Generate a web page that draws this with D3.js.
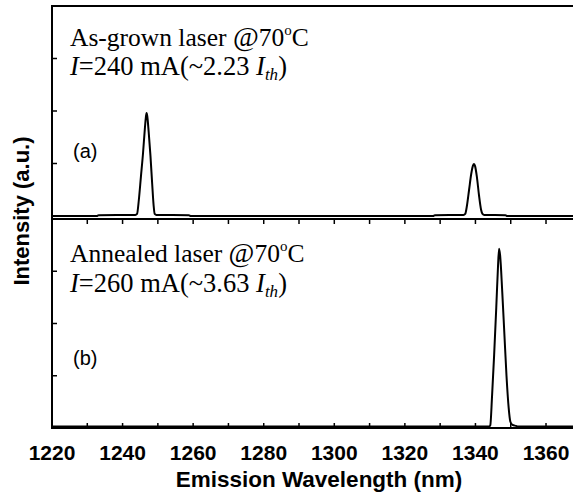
<!DOCTYPE html>
<html>
<head>
<meta charset="utf-8">
<script src="https://cdn.jsdelivr.net/npm/d3@7/dist/d3.min.js"></script>
<style>
  html, body { margin: 0; padding: 0; background: #fff; }
  svg { display: block; }
  .serif { font-family: "Liberation Serif", "Times New Roman", serif; }
  .sans { font-family: "Liberation Sans", Arial, sans-serif; }
</style>
</head>
<body>
<svg id="chart" width="573" height="494"></svg>
<script>
// Emission spectra (nm, arbitrary units)
const wavelengthA = [1220, 1232.7, 1233.2, 1243.6, 1244.1, 1244.6, 1245.2, 1245.8, 1246.3, 1246.6, 1246.8, 1247.0, 1247.4, 1247.9, 1248.4, 1248.8, 1249.1, 1249.6, 1258.8, 1259.3, 1328.0, 1328.5, 1336.6, 1337.1, 1337.6, 1338.2, 1338.8, 1339.3, 1339.6, 1339.9, 1340.4, 1341.0, 1341.6, 1342.0, 1342.5, 1348.5, 1349.0, 1370];
const intensityA  = [0, 0, 0.015, 0.02, 0.04, 0.3, 0.75, 1.2, 1.65, 1.88, 1.96, 1.9, 1.6, 1.15, 0.6, 0.2, 0.04, 0.02, 0.015, 0, 0, 0.015, 0.02, 0.04, 0.2, 0.5, 0.8, 0.96, 0.99, 0.95, 0.75, 0.4, 0.12, 0.04, 0.02, 0.015, 0, 0];

const wavelengthB = [1220, 1343.9, 1344.2, 1344.7, 1345.3, 1345.9, 1346.4, 1346.7, 1347.0, 1347.6, 1348.2, 1348.8, 1349.4, 1349.9, 1350.5, 1351.5, 1352.0, 1370];
const intensityB  = [0.03, 0.03, 0.05, 0.6, 1.4, 2.3, 3.1, 3.43, 3.3, 2.6, 1.8, 1.0, 0.4, 0.12, 0.06, 0.04, 0.03, 0.03];

const xTickValues = [1220, 1230, 1240, 1250, 1260, 1270, 1280, 1290, 1300, 1310, 1320, 1330, 1340, 1350, 1360, 1370];
const xTickLabels = [1220, 1240, 1260, 1280, 1300, 1320, 1340, 1360];
const yTickValues = [1, 2, 3];

const svg = d3.select("#chart");

const x = d3.scaleLinear().domain([1220, 1370]).range([52, 581.3]);
const yTop = d3.scaleLinear().domain([0, 4]).range([216, 6]);
const yBot = d3.scaleLinear().domain([0, 4]).range([428, 219]);

const axisStroke = 2;

// Frame: top border, separator, bottom axis, left axis
const frame = svg.append("g").attr("stroke", "#000").attr("stroke-width", axisStroke).attr("fill", "none");
frame.append("line").attr("x1", 52).attr("x2", 573).attr("y1", yTop(4)).attr("y2", yTop(4));
frame.append("line").attr("x1", 52).attr("x2", 573).attr("y1", yBot(4)).attr("y2", yBot(4));
frame.append("line").attr("x1", 52).attr("x2", 573).attr("y1", yBot(0)).attr("y2", yBot(0));
frame.append("line").attr("x1", 52).attr("x2", 52).attr("y1", yTop(4) - 1).attr("y2", yBot(0) + 1);

// Inward x ticks on the separator (pointing down) and the bottom axis (pointing up)
const tickG = svg.append("g").attr("stroke", "#000").attr("stroke-width", 1.5);
tickG.selectAll(".tkSep").data(xTickValues).join("line")
  .attr("x1", d => x(d)).attr("x2", d => x(d))
  .attr("y1", yBot(4)).attr("y2", yBot(4) + 5);
tickG.selectAll(".tkBot").data(xTickValues).join("line")
  .attr("x1", d => x(d)).attr("x2", d => x(d))
  .attr("y1", yBot(0)).attr("y2", yBot(0) - 5);

// Inward y ticks on the left axis for both panels
[yTop, yBot].forEach(ys => {
  tickG.append("g").selectAll("line").data(yTickValues).join("line")
    .attr("x1", 52).attr("x2", 57)
    .attr("y1", d => ys(d)).attr("y2", d => ys(d));
});

// X tick labels
svg.append("g").selectAll("text").data(xTickLabels).join("text")
  .attr("class", "sans")
  .attr("x", d => x(d)).attr("y", 460)
  .attr("text-anchor", "middle")
  .attr("font-size", 21).attr("font-weight", "bold")
  .text(d => d);

// Axis titles
svg.append("text").attr("class", "sans")
  .attr("x", 319).attr("y", 487)
  .attr("text-anchor", "middle")
  .attr("font-size", 22.5).attr("font-weight", "bold")
  .text("Emission Wavelength (nm)");

svg.append("text").attr("class", "sans")
  .attr("transform", "translate(29,211) rotate(-90)")
  .attr("text-anchor", "middle")
  .attr("font-size", 22).attr("font-weight", "bold")
  .text("Intensity (a.u.)");

// Spectra
const lineTop = d3.line().x(d => x(d[0])).y(d => yTop(d[1])).curve(d3.curveMonotoneX);
const lineBot = d3.line().x(d => x(d[0])).y(d => yBot(d[1])).curve(d3.curveMonotoneX);

svg.append("path")
  .datum(d3.zip(wavelengthA, intensityA))
  .attr("d", lineTop)
  .attr("fill", "none").attr("stroke", "#000").attr("stroke-width", 2)
  .attr("stroke-linejoin", "round");

svg.append("path")
  .datum(d3.zip(wavelengthB, intensityB))
  .attr("d", lineBot)
  .attr("fill", "none").attr("stroke", "#000").attr("stroke-width", 2)
  .attr("stroke-linejoin", "round");

// Panel annotations
function annotate(line1, current, ratio, y1, y2) {
  const t1 = svg.append("text").attr("class", "serif")
    .attr("x", 70).attr("y", y1).attr("font-size", 25.5).attr("fill", "#000");
  t1.append("tspan").text(line1 + " ");
  t1.append("tspan").attr("font-size", 28).text("@");
  t1.append("tspan").text("70");
  t1.append("tspan").attr("font-size", 15).attr("dy", -11).text("o");
  t1.append("tspan").attr("dy", 11).text("C");

  const t2 = svg.append("text").attr("class", "serif")
    .attr("x", 70).attr("y", y2).attr("font-size", 26.5).attr("fill", "#000");
  t2.append("tspan").attr("font-style", "italic").text("I");
  t2.append("tspan").text("=" + current + " mA(~" + ratio + " ");
  t2.append("tspan").attr("font-style", "italic").text("I");
  t2.append("tspan").attr("font-style", "italic").attr("font-size", 17).attr("dy", 5).text("th");
  t2.append("tspan").attr("dy", -5).text(")");
}
annotate("As-grown laser", 240, "2.23", 46, 75);
annotate("Annealed laser", 260, "3.63", 262, 291.5);

svg.append("text").attr("class", "sans").attr("x", 73).attr("y", 158)
  .attr("font-size", 20).text("(a)");
svg.append("text").attr("class", "sans").attr("x", 73).attr("y", 365)
  .attr("font-size", 20).text("(b)");
</script>
</body>
</html>
